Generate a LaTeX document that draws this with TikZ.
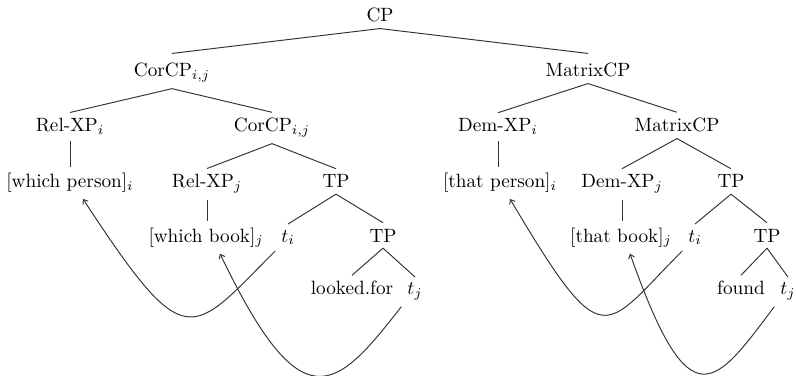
\documentclass[tikz,border=0pt]{standalone}
\usetikzlibrary{arrows.meta, positioning, calc}

\begin{document}
\begin{tikzpicture}[
  x=0.52pt, y=-0.52pt,
  lbl/.style={anchor=base, inner sep=3pt},
  branch/.style={line width=0.5pt, black!80},
  move/.style={-{Straight Barb[length=2pt,width=3.2pt]}, line width=0.5pt, black!80}
]
\useasboundingbox (0,0) rectangle (796,376);

% upper part of the tree
\node (cp) [lbl] at (380,22) {CP};
\node (corcp) [lbl] at (172,77) {CorCP$_{i,j}$};
\node (matcp) [lbl] at (588,77) {MatrixCP};

% correlative half
\node (relxpi) [lbl] at (70,132) {Rel-XP$_i$};
\node (corcpb) [lbl] at (272,132) {CorCP$_{i,j}$};
\node (whperson) [lbl] at (70,188) {[which person]$_i$};
\node (relxpj) [lbl] at (207,188) {Rel-XP$_j$};
\node (tpa) [lbl] at (336,188) {TP};
\node (whbook) [lbl] at (206,242) {[which book]$_j$};
\node (tia) [lbl] at (288,242) {$t_i$};
\node (tpb) [lbl] at (383,242) {TP};
\node (looked) [lbl] at (352,295) {looked.for};
\node (tja) [lbl] at (415,295) {$t_j$};

% matrix half
\node (demxpi) [lbl] at (498,132) {Dem-XP$_i$};
\node (matcpb) [lbl] at (677,132) {MatrixCP};
\node (thperson) [lbl] at (500,188) {[that person]$_i$};
\node (demxpj) [lbl] at (622,188) {Dem-XP$_j$};
\node (tpc) [lbl] at (731,188) {TP};
\node (thbook) [lbl] at (621,242) {[that book]$_j$};
\node (tib) [lbl] at (695,242) {$t_i$};
\node (tpd) [lbl] at (767,242) {TP};
\node (found) [lbl] at (741,295) {found};
\node (tjb) [lbl] at (788,295) {$t_j$};

\draw [branch] (cp.south) -- ([yshift=2pt]corcp.north);
\draw [branch] (cp.south) -- ([yshift=2pt]matcp.north);
\draw [branch] (corcp.south) -- (relxpi.north);
\draw [branch] (corcp.south) -- (corcpb.north);
\draw [branch] (relxpi.south) -- (relxpi.south |- whperson.north);
\draw [branch] (corcpb.south) -- (relxpj.north);
\draw [branch] (corcpb.south) -- (tpa.north);
\draw [branch] (relxpj.south) -- (relxpj.south |- whbook.north);
\draw [branch] (tpa.south) -- (tia.north);
\draw [branch] (tpa.south) -- (tpb.north);
\draw [branch] (tpb.south) -- (looked.north);
\draw [branch] (tpb.south) -- (tja.north);

\draw [branch] (matcp.south) -- (demxpi.north);
\draw [branch] (matcp.south) -- (matcpb.north);
\draw [branch] (demxpi.south) -- (demxpi.south |- thperson.north);
\draw [branch] (matcpb.south) -- (demxpj.north);
\draw [branch] (matcpb.south) -- (tpc.north);
\draw [branch] (demxpj.south) -- (demxpj.south |- thbook.north);
\draw [branch] (tpc.south) -- (tib.north);
\draw [branch] (tpc.south) -- (tpd.north);
\draw [branch] (tpd.south) -- (found.north);
\draw [branch] (tpd.south) -- (tjb.north);

% movement
\draw [move] (tia.south west) .. controls +(-85,85) and +(104,159) .. ($(whperson.south)+(13,0)$);
\draw [move] (tja.south west) .. controls +(-66,85) and +(82,171) .. ($(whbook.south)+(14,0)$);
\draw [move] (tib.south west) .. controls +(-80,80) and +(95,160) .. ($(thperson.south)+(10,0)$);
\draw [move] (tjb.south west) .. controls +(-60,80) and +(60,170) .. ($(thbook.south)+(9,0)$);

\end{tikzpicture}
\end{document}
